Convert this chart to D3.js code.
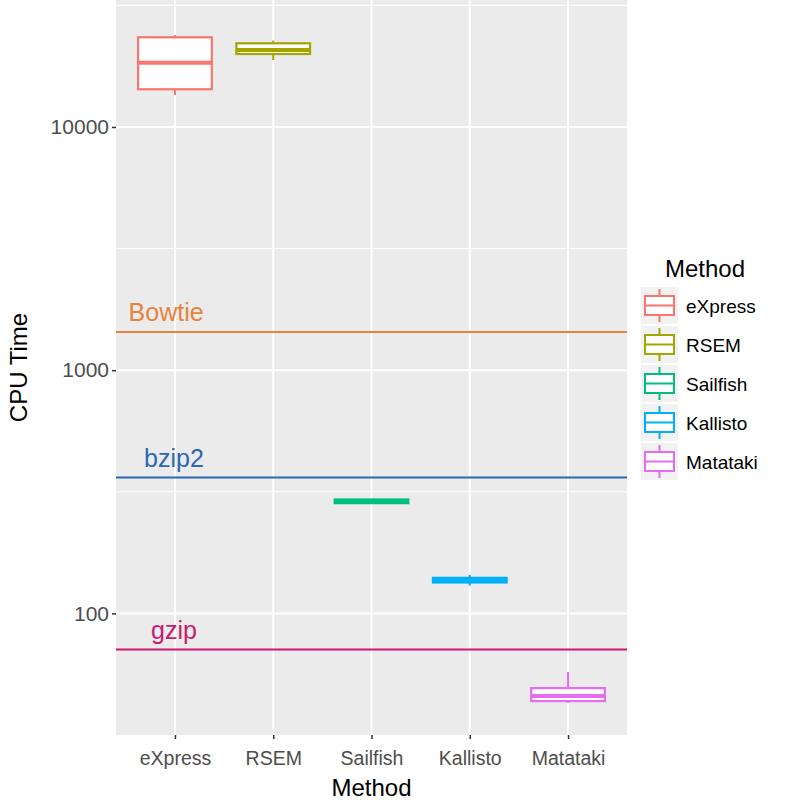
<!DOCTYPE html>
<html>
<head>
<meta charset="utf-8">
<script src="https://cdn.jsdelivr.net/npm/d3@7"></script>
<style>
  html, body { margin: 0; padding: 0; background: #fff; overflow: hidden; }
  svg { display: block; }
  text { font-family: "Liberation Sans", Arial, sans-serif; }
</style>
</head>
<body>
<div id="plot"></div>
<script>
// data
const methods = ["eXpress", "RSEM", "Sailfish", "Kallisto", "Matataki"];
const whiskerLow  = [13540, 18850, 283, 130, 42.9];
const q1          = [14290, 19950, 284, 134, 43.6];
const median      = [18370, 20730, 289, 137, 45.7];
const q3          = [23370, 22080, 294, 140, 49.3];
const whiskerHigh = [23880, 22650, 295, 144, 57.4];
const methodColors = ["#F8766D", "#A3A500", "#00BF7D", "#00B0F6", "#E76BF3"];

const refNames  = ["Bowtie", "bzip2", "gzip"];
const refValues = [1437, 362, 71];
const refColors = ["#E6833E", "#2C67B1", "#C91A70"];
const refLabelX = [0.91, 0.99, 0.99];

const yMajor = [100, 1000, 10000];
const yMinor = [Math.sqrt(10) * 100, Math.sqrt(10) * 1000, Math.sqrt(10) * 10000];

const w = 787, h = 801;
const margin = {left: 116, top: 0, right: 160, bottom: 66};
const innerWidth = w - margin.left - margin.right;
const innerHeight = h - margin.top - margin.bottom;

const boxes = methods.map((m, i) => ({
  method: m, lo: whiskerLow[i], q1: q1[i], med: median[i], q3: q3[i], hi: whiskerHigh[i], color: methodColors[i]
}));

// discrete axis with ggplot-like 0.6 expansion
const xIndex = d3.scaleLinear()
  .domain([1 - 0.6, methods.length + 0.6])
  .range([0, innerWidth]);
const xScale = m => xIndex(methods.indexOf(m) + 1);
const unit = xIndex(2) - xIndex(1);
const boxW = unit * 0.75;

const yScale = d3.scaleLog()
  .domain([Math.pow(10, 1.5), Math.pow(10, 4.522)])
  .range([innerHeight, 0]);

const svg = d3.select("div#plot")
  .append("svg")
  .attr("width", w)
  .attr("height", h);

const plot = svg.append("g")
  .attr("id", "plotarea")
  .attr("transform", `translate(${margin.left}, ${margin.top})`);

// panel background
plot.append("rect")
  .attr("width", innerWidth)
  .attr("height", innerHeight)
  .attr("fill", "#EBEBEB");

// grid lines
plot.append("g").selectAll("line")
  .data(yMinor)
  .enter().append("line")
  .attr("x1", 0).attr("x2", innerWidth)
  .attr("y1", d => yScale(d)).attr("y2", d => yScale(d))
  .attr("stroke", "#fff").attr("stroke-width", 1);

plot.append("g").selectAll("line")
  .data(yMajor)
  .enter().append("line")
  .attr("x1", 0).attr("x2", innerWidth)
  .attr("y1", d => yScale(d)).attr("y2", d => yScale(d))
  .attr("stroke", "#fff").attr("stroke-width", 2);

plot.append("g").selectAll("line")
  .data(methods)
  .enter().append("line")
  .attr("x1", d => xScale(d)).attr("x2", d => xScale(d))
  .attr("y1", 0).attr("y2", innerHeight)
  .attr("stroke", "#fff").attr("stroke-width", 2);

// reference lines
plot.append("g").selectAll("line")
  .data(refValues)
  .enter().append("line")
  .attr("x1", 0).attr("x2", innerWidth)
  .attr("y1", d => yScale(d)).attr("y2", d => yScale(d))
  .attr("stroke", (d, i) => refColors[i])
  .attr("stroke-width", 2);

plot.append("g").selectAll("text")
  .data(refNames)
  .enter().append("text")
  .attr("x", (d, i) => xIndex(refLabelX[i]))
  .attr("y", (d, i) => yScale(refValues[i]) - 11)
  .attr("text-anchor", "middle")
  .attr("font-size", 25)
  .attr("fill", (d, i) => refColors[i])
  .text(d => d);

// boxplots
const bx = plot.append("g").attr("id", "boxes")
  .selectAll("g")
  .data(boxes)
  .enter().append("g");

bx.append("line")
  .attr("x1", d => xScale(d.method)).attr("x2", d => xScale(d.method))
  .attr("y1", d => yScale(d.hi)).attr("y2", d => yScale(d.q3))
  .attr("stroke", d => d.color).attr("stroke-width", 2);

bx.append("line")
  .attr("x1", d => xScale(d.method)).attr("x2", d => xScale(d.method))
  .attr("y1", d => yScale(d.q1)).attr("y2", d => yScale(d.lo))
  .attr("stroke", d => d.color).attr("stroke-width", 2);

bx.append("rect")
  .attr("x", d => xScale(d.method) - boxW / 2)
  .attr("width", boxW)
  .attr("y", d => yScale(d.q3))
  .attr("height", d => Math.max(0.5, yScale(d.q1) - yScale(d.q3)))
  .attr("fill", "#fff")
  .attr("stroke", d => d.color)
  .attr("stroke-width", 2.2);

bx.append("line")
  .attr("x1", d => xScale(d.method) - boxW / 2).attr("x2", d => xScale(d.method) + boxW / 2)
  .attr("y1", d => yScale(d.med)).attr("y2", d => yScale(d.med))
  .attr("stroke", d => d.color).attr("stroke-width", 4);

// y axis
const yAxis = d3.axisLeft(yScale)
  .tickValues(yMajor)
  .tickFormat(d3.format("d"))
  .tickSize(4)
  .tickPadding(3);

plot.append("g")
  .attr("id", "yaxis")
  .call(yAxis)
  .call(g => g.select(".domain").remove())
  .call(g => g.selectAll("line").attr("stroke", "#333").attr("stroke-width", 1.5))
  .call(g => g.selectAll("text").attr("font-size", 21).attr("fill", "#4D4D4D")
    .attr("font-family", "Liberation Sans, Arial, sans-serif"));

// x axis
const xBand = d3.scalePoint().domain(methods)
  .range([xScale(methods[0]), xScale(methods[methods.length - 1])]);
const xAxis = d3.axisBottom(xBand)
  .tickSize(4)
  .tickPadding(12);

plot.append("g")
  .attr("id", "xaxis")
  .attr("transform", `translate(0, ${innerHeight})`)
  .call(xAxis)
  .call(g => g.select(".domain").remove())
  .call(g => g.selectAll("line").attr("stroke", "#333").attr("stroke-width", 1.5))
  .call(g => g.selectAll("text").attr("font-size", 19.5).attr("fill", "#4D4D4D")
    .attr("font-family", "Liberation Sans, Arial, sans-serif"));

// axis titles
svg.append("text")
  .attr("x", margin.left + innerWidth / 2)
  .attr("y", 796)
  .attr("text-anchor", "middle")
  .attr("font-size", 24)
  .attr("fill", "#000")
  .text("Method");

svg.append("text")
  .attr("transform", `translate(27, ${innerHeight / 2}) rotate(-90)`)
  .attr("text-anchor", "middle")
  .attr("font-size", 24)
  .attr("fill", "#000")
  .text("CPU Time");

// legend
const legend = svg.append("g")
  .attr("transform", "translate(641, 250)");

legend.append("text")
  .attr("x", 24).attr("y", 27)
  .attr("font-size", 24)
  .text("Method");

const keySize = 37;
const key = legend.selectAll("g.key")
  .data(boxes)
  .enter().append("g")
  .attr("class", "key")
  .attr("transform", (d, i) => `translate(0, ${37 + i * 39})`);

key.append("rect")
  .attr("width", keySize).attr("height", keySize)
  .attr("fill", "#F2F2F2");

key.append("line")
  .attr("x1", keySize / 2).attr("x2", keySize / 2)
  .attr("y1", 2).attr("y2", keySize - 2)
  .attr("stroke", d => d.color).attr("stroke-width", 2);

key.append("rect")
  .attr("x", 4).attr("y", 9)
  .attr("width", keySize - 8).attr("height", keySize - 18)
  .attr("fill", "#fff")
  .attr("stroke", d => d.color).attr("stroke-width", 2);

key.append("line")
  .attr("x1", 4).attr("x2", keySize - 4)
  .attr("y1", keySize / 2).attr("y2", keySize / 2)
  .attr("stroke", d => d.color).attr("stroke-width", 2);

key.append("text")
  .attr("x", keySize + 8)
  .attr("y", keySize / 2 + 7)
  .attr("font-size", 19)
  .text(d => d.method);
</script>
</body>
</html>
